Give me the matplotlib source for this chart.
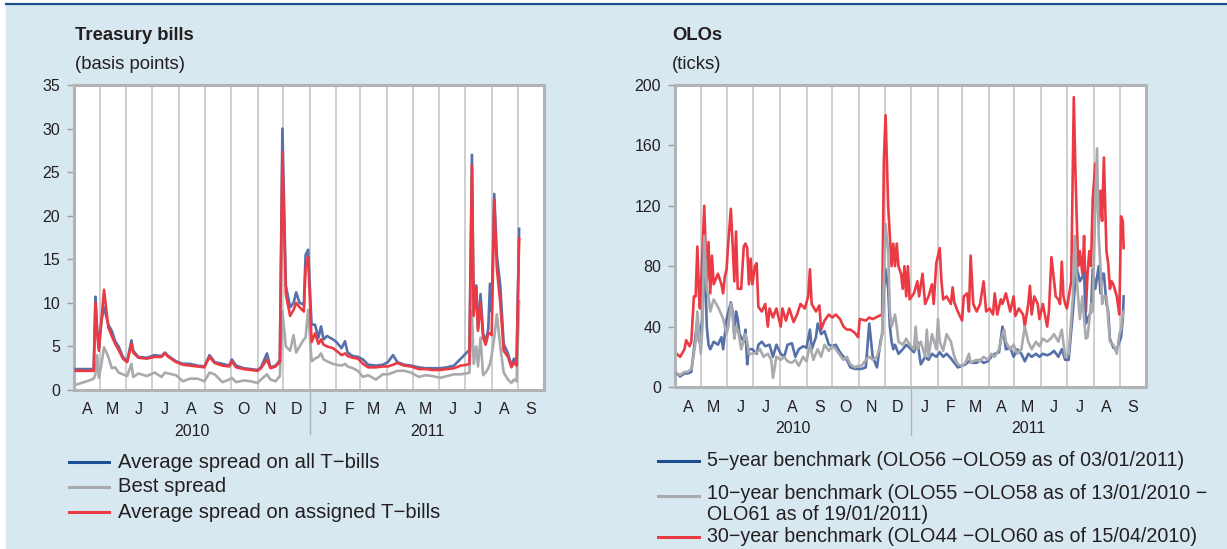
import matplotlib.pyplot as plt
import matplotlib.transforms as mtransforms
import matplotlib.dates as mdates
from matplotlib.patches import Rectangle
from matplotlib.lines import Line2D
import numpy as np
import pandas as pd

plt.rcParams['font.family'] = ['Liberation Sans', 'DejaVu Sans']

start = pd.Timestamp('2010-04-01')
end = pd.Timestamp('2011-10-01')

# Treasury bills spreads (basis points); x = days since 1 April 2010
tb_days = [2, 15, 23, 25, 27, 29, 32, 35, 40, 44, 48, 52, 57, 62, 67, 69, 75, 85, 94, 102,
           106, 110, 119, 127, 135, 144, 152, 158, 164, 173, 181, 184, 189, 198, 206, 214, 218, 225, 229, 235,
           240, 243, 247, 252, 256, 259, 263, 268, 270, 273, 277, 281, 285, 288, 291, 295, 302, 306, 312, 316,
           319, 325, 331, 337, 343, 352, 360, 366, 372, 377, 385, 393, 402, 410, 418, 427, 435, 443, 451, 458,
           461, 464, 466, 469, 471, 474, 477, 480, 483, 485, 487, 490, 493, 497, 501, 506, 510, 513, 516, 519]
tb_all = [2.4, 2.4, 2.4, 10.7, 7.0, 4.8, 8.0, 9.5, 7.5, 6.8, 5.6, 5.0, 3.8, 3.3, 5.7, 4.5, 3.8, 3.7, 4.0, 3.9,
          4.3, 3.9, 3.3, 3.0, 3.0, 2.8, 2.7, 4.0, 3.2, 3.0, 2.8, 3.5, 2.8, 2.5, 2.4, 2.3, 2.6, 4.2, 2.6, 2.8,
          3.4, 30.0, 12.0, 9.5, 10.0, 11.2, 10.0, 9.8, 15.5, 16.1, 7.5, 7.5, 6.0, 7.3, 5.8, 6.2, 5.8, 5.5, 4.8, 5.6,
          4.3, 3.9, 3.8, 3.5, 2.9, 2.8, 2.9, 3.2, 4.0, 3.2, 2.9, 2.8, 2.6, 2.5, 2.5, 2.5, 2.6, 2.8, 3.6, 4.3,
          4.6, 27.0, 9.0, 12.0, 7.0, 11.0, 6.5, 5.5, 7.0, 12.2, 9.0, 22.5, 15.5, 12.0, 5.3, 4.2, 2.8, 3.6, 3.0, 18.5]
tb_best = [0.6, 1.0, 1.3, 1.8, 4.0, 1.4, 3.0, 4.9, 3.8, 2.5, 2.6, 2.0, 1.8, 1.6, 3.0, 1.5, 1.9, 1.6, 2.0, 1.5,
           2.0, 1.9, 1.7, 1.0, 1.3, 1.3, 1.0, 2.0, 1.8, 0.9, 1.2, 1.4, 0.9, 1.1, 1.0, 0.8, 1.2, 1.8, 1.2, 1.0,
           1.6, 9.0, 5.0, 4.5, 6.3, 4.3, 5.0, 5.8, 6.0, 9.2, 3.3, 3.6, 3.8, 4.2, 3.5, 3.3, 3.0, 2.9, 2.8, 3.0,
           2.7, 2.5, 2.2, 1.5, 1.7, 1.2, 1.8, 1.8, 2.0, 2.2, 2.2, 2.0, 1.5, 1.7, 1.6, 1.4, 1.6, 1.8, 1.8, 1.9,
           2.0, 9.0, 3.0, 5.0, 2.7, 6.0, 1.7, 2.0, 2.5, 3.0, 4.0, 6.0, 8.7, 5.0, 2.0, 1.2, 0.8, 1.2, 1.0, 10.2]
tb_assigned = [2.2, 2.2, 2.2, 10.0, 6.5, 4.5, 8.0, 11.5, 7.2, 6.2, 5.3, 4.6, 3.6, 3.2, 5.3, 4.3, 3.7, 3.6, 3.8, 3.8,
               4.2, 3.8, 3.2, 2.9, 2.8, 2.7, 2.6, 3.8, 3.1, 2.8, 2.7, 3.3, 2.6, 2.4, 2.3, 2.2, 2.5, 3.5, 2.5, 2.7,
               3.2, 27.3, 11.0, 8.5, 9.2, 10.0, 9.5, 9.0, 14.0, 15.3, 5.5, 6.5, 5.3, 5.8, 5.2, 5.0, 4.8, 4.5, 4.0, 4.2,
               3.9, 3.7, 3.6, 3.0, 2.6, 2.6, 2.7, 2.7, 2.9, 3.1, 2.8, 2.7, 2.4, 2.4, 2.3, 2.3, 2.4, 2.5, 2.8, 2.9,
               3.0, 25.8, 8.5, 11.8, 6.8, 10.0, 6.0, 5.2, 6.5, 6.5, 6.3, 21.8, 14.0, 10.0, 4.5, 3.8, 2.6, 3.2, 2.8, 17.4]

# OLO bid-ask spreads (ticks); (days since 1 April 2010, value)
olo5 = [(2, 9), (6, 7), (11, 9), (15, 9), (19, 10), (22, 25), (26, 45), (28, 30), (30, 38), (32, 45),
        (34, 97), (37, 40), (39, 28), (41, 25), (45, 30), (50, 28), (54, 33), (56, 25), (60, 45), (65, 56),
        (67, 50), (69, 35), (71, 50), (73, 45), (75, 35), (80, 30), (82, 38), (84, 15), (86, 25), (90, 25),
        (95, 22), (97, 28), (101, 30), (105, 27), (110, 28), (114, 20), (118, 28), (123, 22), (127, 20), (131, 28),
        (136, 29), (140, 20), (144, 25), (149, 27), (153, 26), (157, 38), (159, 25), (164, 33), (166, 42), (170, 35),
        (174, 37), (179, 28), (183, 27), (187, 28), (192, 23), (196, 20), (200, 18), (204, 13), (209, 12), (213, 12),
        (217, 12), (222, 13), (226, 42), (230, 20), (235, 13), (239, 30), (241, 35), (243, 65), (245, 78), (248, 65),
        (250, 40), (252, 30), (254, 25), (256, 28), (260, 22), (265, 25), (269, 28), (273, 26), (278, 23), (282, 30),
        (286, 15), (291, 20), (295, 18), (299, 22), (304, 20), (308, 23), (312, 20), (316, 22), (321, 19), (325, 16),
        (329, 13), (334, 14), (338, 15), (342, 17), (347, 16), (351, 16), (355, 18), (359, 16), (364, 17), (368, 20),
        (372, 22), (377, 23), (381, 40), (383, 33), (385, 25), (390, 26), (394, 20), (398, 25), (403, 22), (407, 17),
        (411, 22), (415, 20), (420, 22), (424, 20), (428, 22), (433, 21), (437, 22), (441, 24), (446, 20), (450, 25),
        (454, 18), (458, 18), (463, 50), (467, 80), (469, 75), (471, 70), (476, 75), (478, 42), (480, 45), (484, 50),
        (486, 78), (489, 65), (493, 80), (495, 62), (497, 75), (499, 75), (502, 55), (504, 50), (506, 32), (510, 26),
        (514, 25), (517, 30), (519, 33), (521, 45), (522, 60)]
olo10 = [(2, 9), (6, 8), (11, 10), (15, 10), (19, 12), (22, 22), (24, 30), (26, 50), (28, 35), (30, 22),
         (32, 40), (34, 100), (37, 65), (39, 60), (41, 50), (45, 58), (50, 53), (54, 48), (56, 45), (60, 35),
         (62, 40), (65, 55), (67, 48), (69, 32), (71, 40), (73, 38), (75, 32), (77, 25), (82, 35), (84, 30),
         (86, 22), (90, 22), (95, 23), (99, 25), (103, 20), (108, 22), (112, 18), (114, 6), (118, 20), (123, 18),
         (127, 20), (131, 17), (136, 16), (140, 18), (144, 14), (149, 20), (153, 17), (157, 28), (161, 18), (166, 25),
         (170, 20), (174, 28), (179, 24), (183, 27), (187, 25), (192, 21), (196, 18), (200, 20), (204, 15), (209, 13),
         (213, 14), (217, 14), (222, 18), (226, 20), (230, 18), (235, 20), (239, 28), (241, 35), (243, 70), (245, 108),
         (248, 90), (250, 50), (252, 40), (256, 48), (258, 40), (260, 30), (265, 28), (269, 32), (273, 28), (278, 25),
         (280, 40), (282, 25), (286, 30), (291, 20), (293, 38), (295, 20), (299, 35), (304, 25), (306, 45), (308, 30),
         (312, 24), (316, 35), (321, 30), (325, 20), (329, 15), (334, 14), (338, 16), (342, 22), (344, 16), (347, 17),
         (351, 18), (355, 17), (359, 20), (364, 18), (368, 22), (372, 20), (377, 25), (381, 35), (383, 38), (385, 30),
         (390, 25), (394, 28), (398, 22), (403, 25), (407, 40), (411, 30), (415, 25), (420, 30), (424, 27), (428, 32),
         (433, 30), (437, 32), (441, 35), (446, 30), (450, 38), (454, 20), (458, 22), (463, 60), (465, 100), (467, 75),
         (469, 60), (471, 45), (474, 60), (476, 45), (478, 32), (480, 33), (484, 55), (486, 50), (489, 120), (491, 158),
         (493, 100), (495, 80), (497, 55), (499, 60), (502, 60), (504, 45), (506, 30), (510, 28), (514, 22), (517, 35),
         (519, 38), (521, 48), (522, 50)]
olo30 = [(2, 22), (6, 20), (11, 25), (13, 31), (17, 27), (19, 30), (22, 60), (24, 60), (26, 93), (28, 60),
         (29, 52), (32, 90), (34, 120), (37, 70), (39, 96), (41, 62), (43, 87), (45, 68), (50, 75), (54, 68),
         (56, 62), (58, 73), (60, 78), (62, 96), (65, 118), (67, 95), (69, 70), (71, 103), (73, 65), (77, 65),
         (80, 93), (82, 95), (84, 92), (86, 68), (88, 85), (90, 68), (93, 80), (95, 82), (97, 53), (101, 50),
         (105, 55), (108, 40), (110, 52), (114, 46), (118, 52), (123, 40), (125, 52), (129, 44), (133, 52), (138, 43),
         (142, 48), (146, 55), (151, 52), (155, 60), (157, 78), (159, 55), (164, 50), (168, 54), (170, 38), (174, 44),
         (179, 48), (183, 46), (187, 48), (192, 45), (196, 40), (200, 38), (204, 38), (209, 36), (213, 33), (215, 45),
         (222, 44), (226, 46), (230, 45), (237, 47), (241, 48), (243, 150), (245, 180), (248, 120), (250, 100), (252, 80),
         (254, 95), (256, 80), (258, 95), (260, 80), (263, 75), (265, 65), (267, 80), (269, 60), (271, 80), (273, 58),
         (278, 62), (282, 70), (284, 60), (288, 75), (291, 55), (295, 60), (299, 68), (301, 55), (304, 82), (308, 92),
         (310, 70), (312, 58), (316, 60), (321, 55), (323, 66), (325, 56), (329, 50), (334, 44), (336, 60), (340, 62),
         (342, 50), (344, 87), (347, 55), (351, 50), (355, 55), (359, 70), (362, 50), (366, 52), (370, 48), (372, 62),
         (375, 48), (379, 58), (381, 55), (385, 62), (390, 50), (394, 60), (396, 47), (400, 52), (405, 48), (407, 40),
         (411, 55), (413, 67), (415, 48), (418, 60), (422, 55), (424, 45), (428, 55), (433, 40), (435, 50), (438, 86),
         (441, 70), (443, 60), (446, 58), (448, 55), (450, 83), (452, 60), (454, 55), (456, 52), (461, 70), (464, 192),
         (466, 140), (469, 80), (471, 90), (474, 75), (476, 100), (478, 50), (480, 75), (482, 90), (484, 80), (486, 124),
         (489, 148), (491, 130), (493, 108), (495, 130), (497, 110), (499, 152), (502, 90), (504, 82), (506, 65), (508, 70),
         (510, 68), (514, 60), (517, 48), (519, 113), (521, 110), (522, 92)]

month_labels = ['A', 'M', 'J', 'J', 'A', 'S', 'O', 'N', 'D', 'J', 'F', 'M', 'A', 'M', 'J', 'J', 'A', 'S']
year_labels = ['2010', '2011']

tb_labels = ['Average spread on all T\u2212bills', 'Best spread', 'Average spread on assigned T\u2212bills']
olo_labels = ['5\u2212year benchmark (OLO56 \u2212OLO59 as of 03/01/2011)',
              '10\u2212year benchmark (OLO55 \u2212OLO58 as of 13/01/2010 \u2212\nOLO61 as of 19/01/2011)',
              '30\u2212year benchmark (OLO44 \u2212OLO60 as of 15/04/2010)']

BLUE = '#5670aa'
GREY = '#a9aaad'
RED = '#ec3a44'
BG = '#d8e8f1'
TXT = '#231f20'


def to_dates(days):
    return start + pd.to_timedelta(np.array(days), unit='D')


def style(ax, ymax, ystep, div_len):
    ax.set_facecolor('white')
    ax.set_xlim(start, end)
    ax.set_ylim(0, ymax)
    ax.set_yticks(np.arange(0, ymax + 1, ystep))
    for m in pd.date_range('2010-05-01', '2011-09-01', freq='MS'):
        ax.axvline(m, color='#c6c7c9', lw=1.2, zorder=1)
    mids = pd.date_range(start, '2011-09-01', freq='MS') + pd.Timedelta(days=15)
    ax.set_xticks(mids)
    ax.set_xticklabels(month_labels)
    ax.tick_params(axis='x', length=0, pad=9, labelsize=11.5, labelcolor=TXT)
    ax.tick_params(axis='y', length=5, width=1, color='#9d9fa2', pad=5, labelsize=11.5, labelcolor=TXT)
    for sp in ax.spines.values():
        sp.set_color('#b2b3b5')
        sp.set_linewidth(2.2)
    trans = mtransforms.blended_transform_factory(ax.transData, ax.transAxes)
    jan = mdates.date2num(pd.Timestamp('2011-01-01'))
    x0 = mdates.date2num(start)
    x1 = mdates.date2num(end)
    ax.plot([jan, jan], [0, -div_len], transform=trans, clip_on=False, color='#b2b3b5', lw=1)
    for yl, (a, b) in zip(year_labels, [(x0, jan), (jan, x1)]):
        ax.annotate(yl, xy=((a + b) / 2, 0), xycoords=trans, xytext=(0, -30),
                    textcoords='offset points', ha='center', va='center', fontsize=11.5, color=TXT)


W, H = 1227, 549
fig = plt.figure(figsize=(W / 100, H / 100), dpi=100, facecolor='white')
fig.patches.append(Rectangle((6 / W, 0), 1, 1 - 5 / H, transform=fig.transFigure, color=BG, zorder=-10))
fig.lines.append(Line2D([6 / W, 1], [1 - 4 / H, 1 - 4 / H], transform=fig.transFigure, color='#1f4f8f', lw=1.6))

ax1 = fig.add_axes([74 / W, 1 - 390 / H, 470 / W, 305 / H])
ax2 = fig.add_axes([675 / W, 1 - 387 / H, 471 / W, 302 / H])

style(ax1, 35, 5, 0.145)
style(ax2, 200, 40, 0.16)

d_tb = to_dates(tb_days)
ax1.plot(d_tb, tb_all, color=BLUE, lw=1.9, zorder=3)
ax1.plot(d_tb, tb_best, color=GREY, lw=1.9, zorder=2)
ax1.plot(d_tb, tb_assigned, color=RED, lw=1.9, zorder=4)

for series, col, z in [(olo30, RED, 2), (olo5, BLUE, 3), (olo10, GREY, 4)]:
    dd, vv = zip(*series)
    ax2.plot(to_dates(dd), vv, color=col, lw=1.9, zorder=z)

# titles
fig.text(75 / W, 1 - 35 / H, 'Treasury bills', fontsize=13.3, fontweight='bold', va='center', color=TXT)
fig.text(75 / W, 1 - 64 / H, '(basis points)', fontsize=13.3, va='center', color=TXT)
fig.text(672 / W, 1 - 35 / H, 'OLOs', fontsize=13.3, fontweight='bold', va='center', color=TXT)
fig.text(672 / W, 1 - 64 / H, '(ticks)', fontsize=13.3, va='center', color=TXT)

# legends
leg_cols = ['#1c4f93', GREY, RED]
for lab, col, y in zip(tb_labels, leg_cols, [462, 487, 512]):
    fig.lines.append(Line2D([69 / W, 109 / W], [1 - y / H] * 2, transform=fig.transFigure, color=col, lw=2.2))
    fig.text(118 / W, 1 - y / H, lab, fontsize=14.6, va='center', color=TXT)

for lab, col, y, ty in zip(olo_labels, leg_cols, [461, 496, 537], [461, 504, 537]):
    fig.lines.append(Line2D([658 / W, 699 / W], [1 - y / H] * 2, transform=fig.transFigure, color=col, lw=2.2))
    fig.text(707 / W, 1 - ty / H, lab, fontsize=14.1, va='center', color=TXT, linespacing=1.1)

fig.savefig('out.png', dpi=100, facecolor=fig.get_facecolor())
